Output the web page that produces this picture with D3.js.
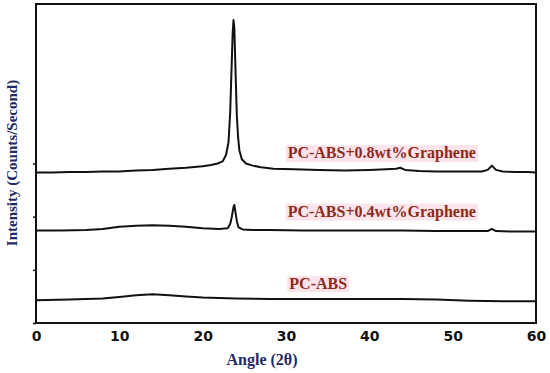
<!DOCTYPE html>
<html>
<head>
<meta charset="utf-8">
<script src="https://cdn.jsdelivr.net/npm/d3@7"></script>
<style>
  body { margin: 0; background: #fff; }
  svg { display: block; }
</style>
</head>
<body>
<svg id="chart" width="550" height="373"></svg>
<script>
// angle (2θ) and intensity, one list per sample
const angles08 = [0, 2, 4, 6, 8, 10, 12, 14, 16, 18, 20, 21, 21.8, 22.4, 22.8, 23.1, 23.3, 23.45, 23.6, 23.7, 23.8, 23.95, 24.1, 24.25, 24.4, 24.7, 25.2, 26, 27, 28.5, 31, 34, 37, 40, 42, 43.2, 43.7, 44.3, 46, 48, 50, 52, 53.5, 54.2, 54.7, 55.2, 56, 57.5, 59, 60];
const values08 = [283, 283, 284, 284, 285, 285, 287, 288, 290, 292, 295, 297, 300, 304, 316, 340, 395, 470, 545, 570, 555, 470, 390, 350, 325, 308, 300, 296, 293, 290, 289, 288, 287, 288, 289, 290, 292, 288, 286, 285, 285, 285, 285, 288, 296, 288, 285, 284, 284, 283];

const angles04 = [0, 3, 6, 8, 10, 12, 14, 16, 18, 20, 22, 23, 23.3, 23.5, 23.7, 23.8, 23.9, 24.1, 24.3, 24.8, 26, 28, 32, 36, 40, 44, 48, 52, 54.2, 54.7, 55.2, 57, 60];
const values04 = [174, 174, 175, 177, 181, 183, 184, 183, 181, 178, 177, 178, 186, 200, 218, 222, 212, 192, 180, 176, 175, 175, 174, 174, 174, 174, 173, 173, 173, 177, 173, 172, 172];

const anglesPC = [0, 4, 8, 10, 12, 14, 16, 18, 20, 24, 28, 32, 36, 40, 44, 48, 52, 56, 60];
const valuesPC = [43, 44, 46, 49, 52, 54, 52, 50, 48, 46, 45, 45, 45, 45, 45, 44, 42, 41, 41];

const seriesNames = ["PC-ABS+0.8wt%Graphene", "PC-ABS+0.4wt%Graphene", "PC-ABS"];
const labelAngles = [30.2, 30.2, 30.4];
const labelLevels = [310, 200, 64];

const xTicks = [0, 10, 20, 30, 40, 50, 60];
const yTicks = [0, 100, 200, 300];

const svg = d3.select("#chart");
const plotLeft = 36, plotRight = 536, plotTop = 4, plotBottom = 323;

const x = d3.scaleLinear().domain([0, 60]).range([plotLeft, plotRight]);
const y = d3.scaleLinear().domain([0, 600]).range([plotBottom, plotTop]);

const series = [
  angles08.map((a, i) => ({ a: a, v: values08[i] })),
  angles04.map((a, i) => ({ a: a, v: values04[i] })),
  anglesPC.map((a, i) => ({ a: a, v: valuesPC[i] }))
];

const line = d3.line()
  .x((d) => x(d.a))
  .y((d) => y(d.v));

series.forEach((s) => {
  svg.append("path")
    .attr("d", line(s))
    .attr("fill", "none")
    .attr("stroke", "#111")
    .attr("stroke-width", 2)
    .attr("stroke-linejoin", "round");
});

// frame
svg.append("rect")
  .attr("x", plotLeft)
  .attr("y", plotTop)
  .attr("width", plotRight - plotLeft)
  .attr("height", plotBottom - plotTop)
  .attr("fill", "none")
  .attr("stroke", "#111")
  .attr("stroke-width", 2);

// y ticks, short, no labels
const yAxis = svg.append("g")
  .attr("transform", `translate(${plotLeft},0)`)
  .call(d3.axisLeft(y).tickValues(yTicks).tickSize(3).tickFormat(""));
yAxis.select(".domain").remove();
yAxis.selectAll("line").attr("stroke", "#111").attr("stroke-width", 1.5);

// x tick labels
const xAxis = svg.append("g")
  .attr("transform", `translate(0,${plotBottom})`)
  .call(d3.axisBottom(x).tickValues(xTicks).tickSize(0).tickPadding(8));
xAxis.select(".domain").remove();
xAxis.selectAll("text")
  .attr("font-family", "DejaVu Sans")
  .attr("font-weight", "bold")
  .attr("font-size", "14px")
  .attr("fill", "#111");

// series labels with pink highlight
seriesNames.forEach((name, i) => {
  const g = svg.append("g");
  const t = g.append("text")
    .attr("x", x(labelAngles[i]))
    .attr("y", y(labelLevels[i]))
    .attr("font-family", "Liberation Serif")
    .attr("font-weight", "bold")
    .attr("font-size", "16px")
    .attr("fill", "#8c2a1c")
    .text(name);
  const b = t.node().getBBox();
  g.insert("rect", "text")
    .attr("x", b.x - 2)
    .attr("y", b.y + 1)
    .attr("width", b.width + 4)
    .attr("height", b.height - 1)
    .attr("fill", "#fde3ea");
});

// axis titles
svg.append("text")
  .attr("x", 262)
  .attr("y", 365)
  .attr("text-anchor", "middle")
  .attr("font-family", "Liberation Serif")
  .attr("font-weight", "bold")
  .attr("font-size", "16px")
  .attr("fill", "#1f2a66")
  .text("Angle (2θ)");

svg.append("text")
  .attr("transform", "translate(17,163) rotate(-90)")
  .attr("text-anchor", "middle")
  .attr("font-family", "Liberation Serif")
  .attr("font-weight", "bold")
  .attr("font-size", "15px")
  .attr("fill", "#1f2a66")
  .text("Intensity (Counts/Second)");
</script>
</body>
</html>
